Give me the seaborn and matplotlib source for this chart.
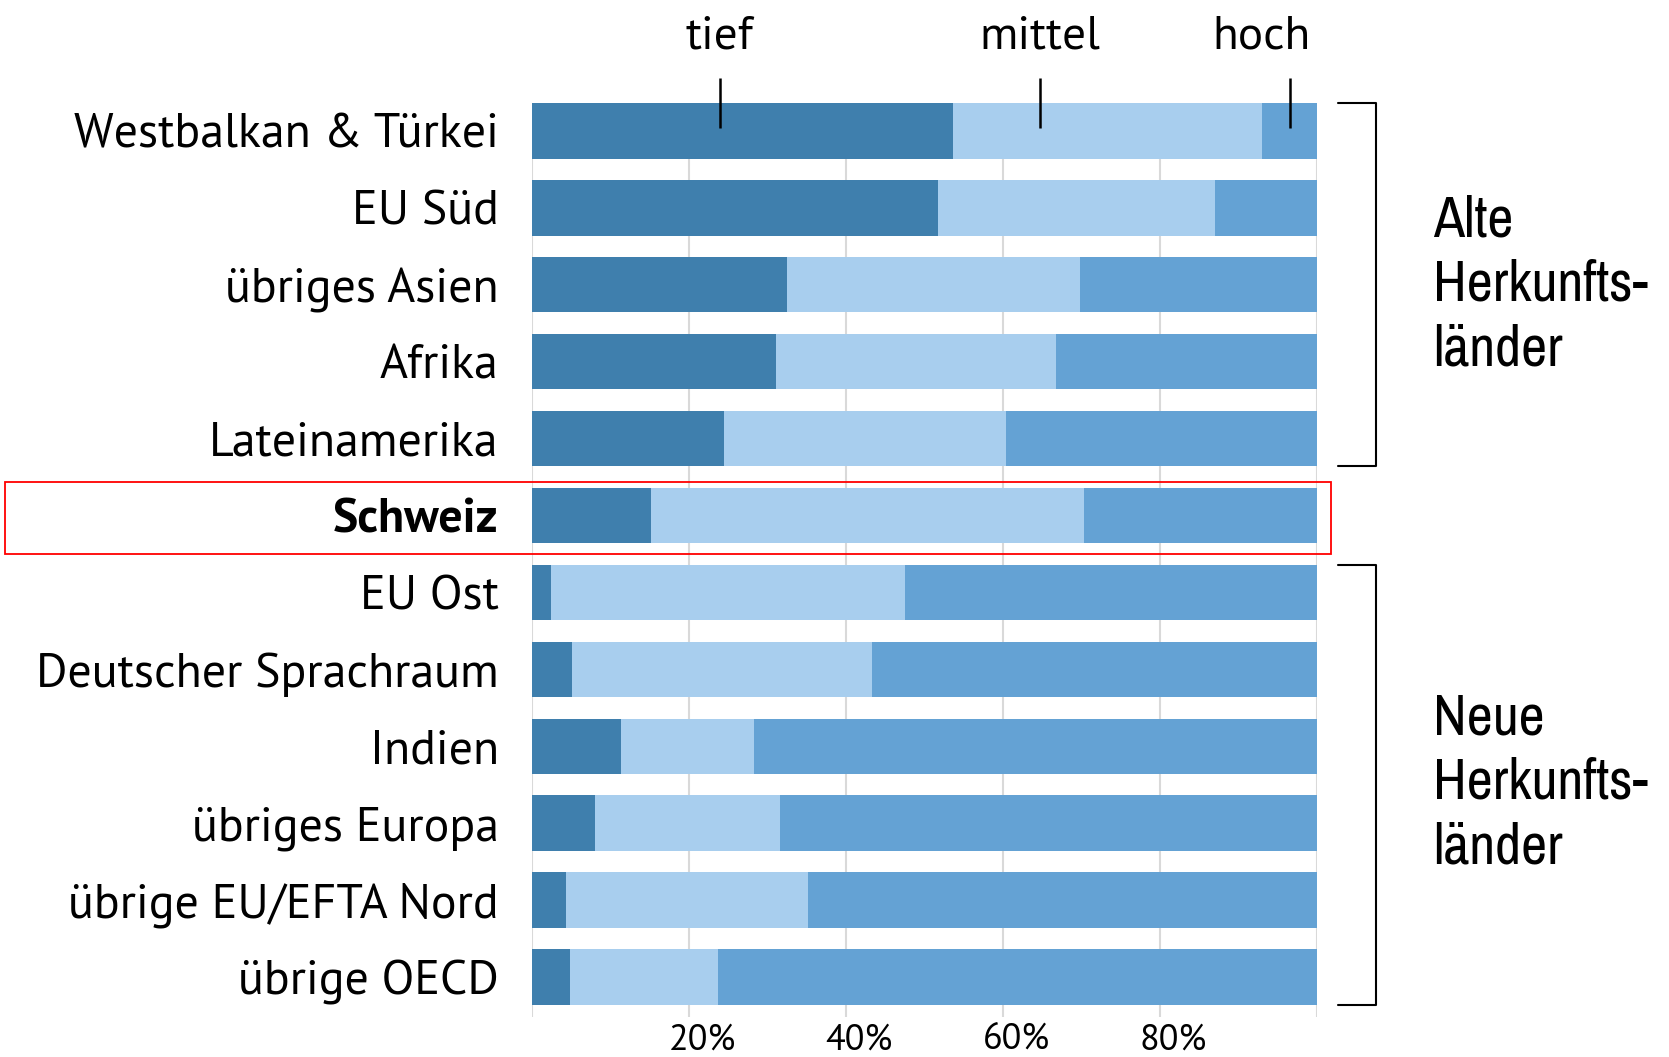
# %%
import pandas as pd
import seaborn as sns
import matplotlib.pyplot as plt
from matplotlib import transforms
from matplotlib.patches import Rectangle
from matplotlib.lines import Line2D

# Anteile (in %) pro Herkunftsregion
regionen = ['Westbalkan & Türkei', 'EU Süd', 'übriges Asien', 'Afrika', 'Lateinamerika',
            'Schweiz', 'EU Ost', 'Deutscher Sprachraum', 'Indien', 'übriges Europa',
            'übrige EU/EFTA Nord', 'übrige OECD']
tief = [53.6, 51.7, 32.5, 31.1, 24.5, 15.1, 2.4, 5.1, 11.3, 8.0, 4.3, 4.8]
mittel = [39.4, 35.3, 37.3, 35.6, 35.9, 55.2, 45.1, 38.2, 17.0, 23.6, 30.8, 18.9]
hoch = [7.0, 13.0, 30.2, 33.3, 39.6, 29.7, 52.5, 56.7, 71.7, 68.4, 64.9, 76.3]

skala_pos = [23.9, 64.7, 96.6]
skala_labels = ['tief', 'mittel', 'hoch']
x_ticks = [0, 20, 40, 60, 80, 100]
x_labels = ['', '20%', '40%', '60%', '80%', '']

gruppe_alt = 'Alte\nHerkunfts-\nländer'
gruppe_neu = 'Neue\nHerkunfts-\nländer'

dunkel = '#3f7fad'
hell = '#a8ceee'
mittelblau = '#64a2d4'

sns.set_style('white')
plt.rcParams['font.family'] = ['PT Sans', 'Open Sans', 'DejaVu Sans']
plt.rcParams['text.color'] = 'black'
plt.rcParams['xtick.labelcolor'] = 'black'
plt.rcParams['ytick.labelcolor'] = 'black'

df = pd.DataFrame({'region': regionen, 'tief': tief, 'mittel': mittel, 'hoch': hoch})
df['bis_mittel'] = df['tief'] + df['mittel']
df['bis_hoch'] = df['bis_mittel'] + df['hoch']

W, H = 1669, 1057
fig = plt.figure(figsize=(W / 100, H / 100), dpi=100)
ax = fig.add_axes([532 / W, 40.5 / H, 785 / W, 913.2 / H])

# gestapelt: zuerst Summe, dann darueber die Teilsummen
for col, farbe in [('bis_hoch', mittelblau), ('bis_mittel', hell), ('tief', dunkel)]:
    sns.barplot(data=df, x=col, y='region', color=farbe, width=0.72, saturation=1,
                edgecolor='none', ax=ax)

ax.set_xlim(0, 100)
ax.set_ylim(11.515, -0.36)
ax.set_xticks(x_ticks, x_labels)
ax.grid(axis='x', color='#d9d9d9', lw=1.5)
ax.set_axisbelow(True)
for s in ax.spines.values():
    s.set_visible(False)
ax.set_xlabel('')
ax.set_ylabel('')
ax.tick_params(axis='x', length=0, pad=5, labelsize=26)
ax.tick_params(axis='y', length=0, pad=24, labelsize=34.5)

for lbl in ax.get_yticklabels():
    if lbl.get_text() == 'Schweiz':
        lbl.set_fontweight('bold')

verschieb = transforms.ScaledTranslation(0.13, 0, fig.dpi_scale_trans)
for t in ax.xaxis.get_major_ticks():
    t.label1.set_transform(t.label1.get_transform() + verschieb)

# Skala oben
sec = ax.secondary_xaxis('top')
sec.set_zorder(5)
sec.set_xticks(skala_pos, skala_labels)
sec.tick_params(direction='inout', length=36, width=1.8, pad=15, labelsize=34,
                color='black')
sec.spines['top'].set_visible(False)
links = transforms.ScaledTranslation(-0.29, 0, fig.dpi_scale_trans)
t_hoch = sec.xaxis.get_major_ticks()[2]
t_hoch.label2.set_transform(t_hoch.label2.get_transform() + links)

# Klammern und Markierung
trans = transforms.blended_transform_factory(fig.transFigure, ax.transData)
x1, x2 = 1338 / W, 1376 / W
for y0, y1 in [(-0.36, 4.36), (5.64, 11.36)]:
    fig.add_artist(Line2D([x1, x2, x2, x1], [y0, y0, y1, y1], transform=trans,
                          color='black', lw=1.5))

fig.add_artist(Rectangle((5 / W, 4.565), 1326 / W, 0.936, transform=trans,
                         fill=False, edgecolor='red', lw=1.3))

schrift = ['Archivo Narrow', 'Liberation Sans', 'DejaVu Sans']
fig.text(1433 / W, 1 - 365 / H, gruppe_alt, fontsize=41, family=schrift,
         va='baseline', ha='left', linespacing=1.29)
fig.text(1433 / W, 1 - 863 / H, gruppe_neu, fontsize=41, family=schrift,
         va='baseline', ha='left', linespacing=1.29)

fig.savefig('out.png', dpi=100)
